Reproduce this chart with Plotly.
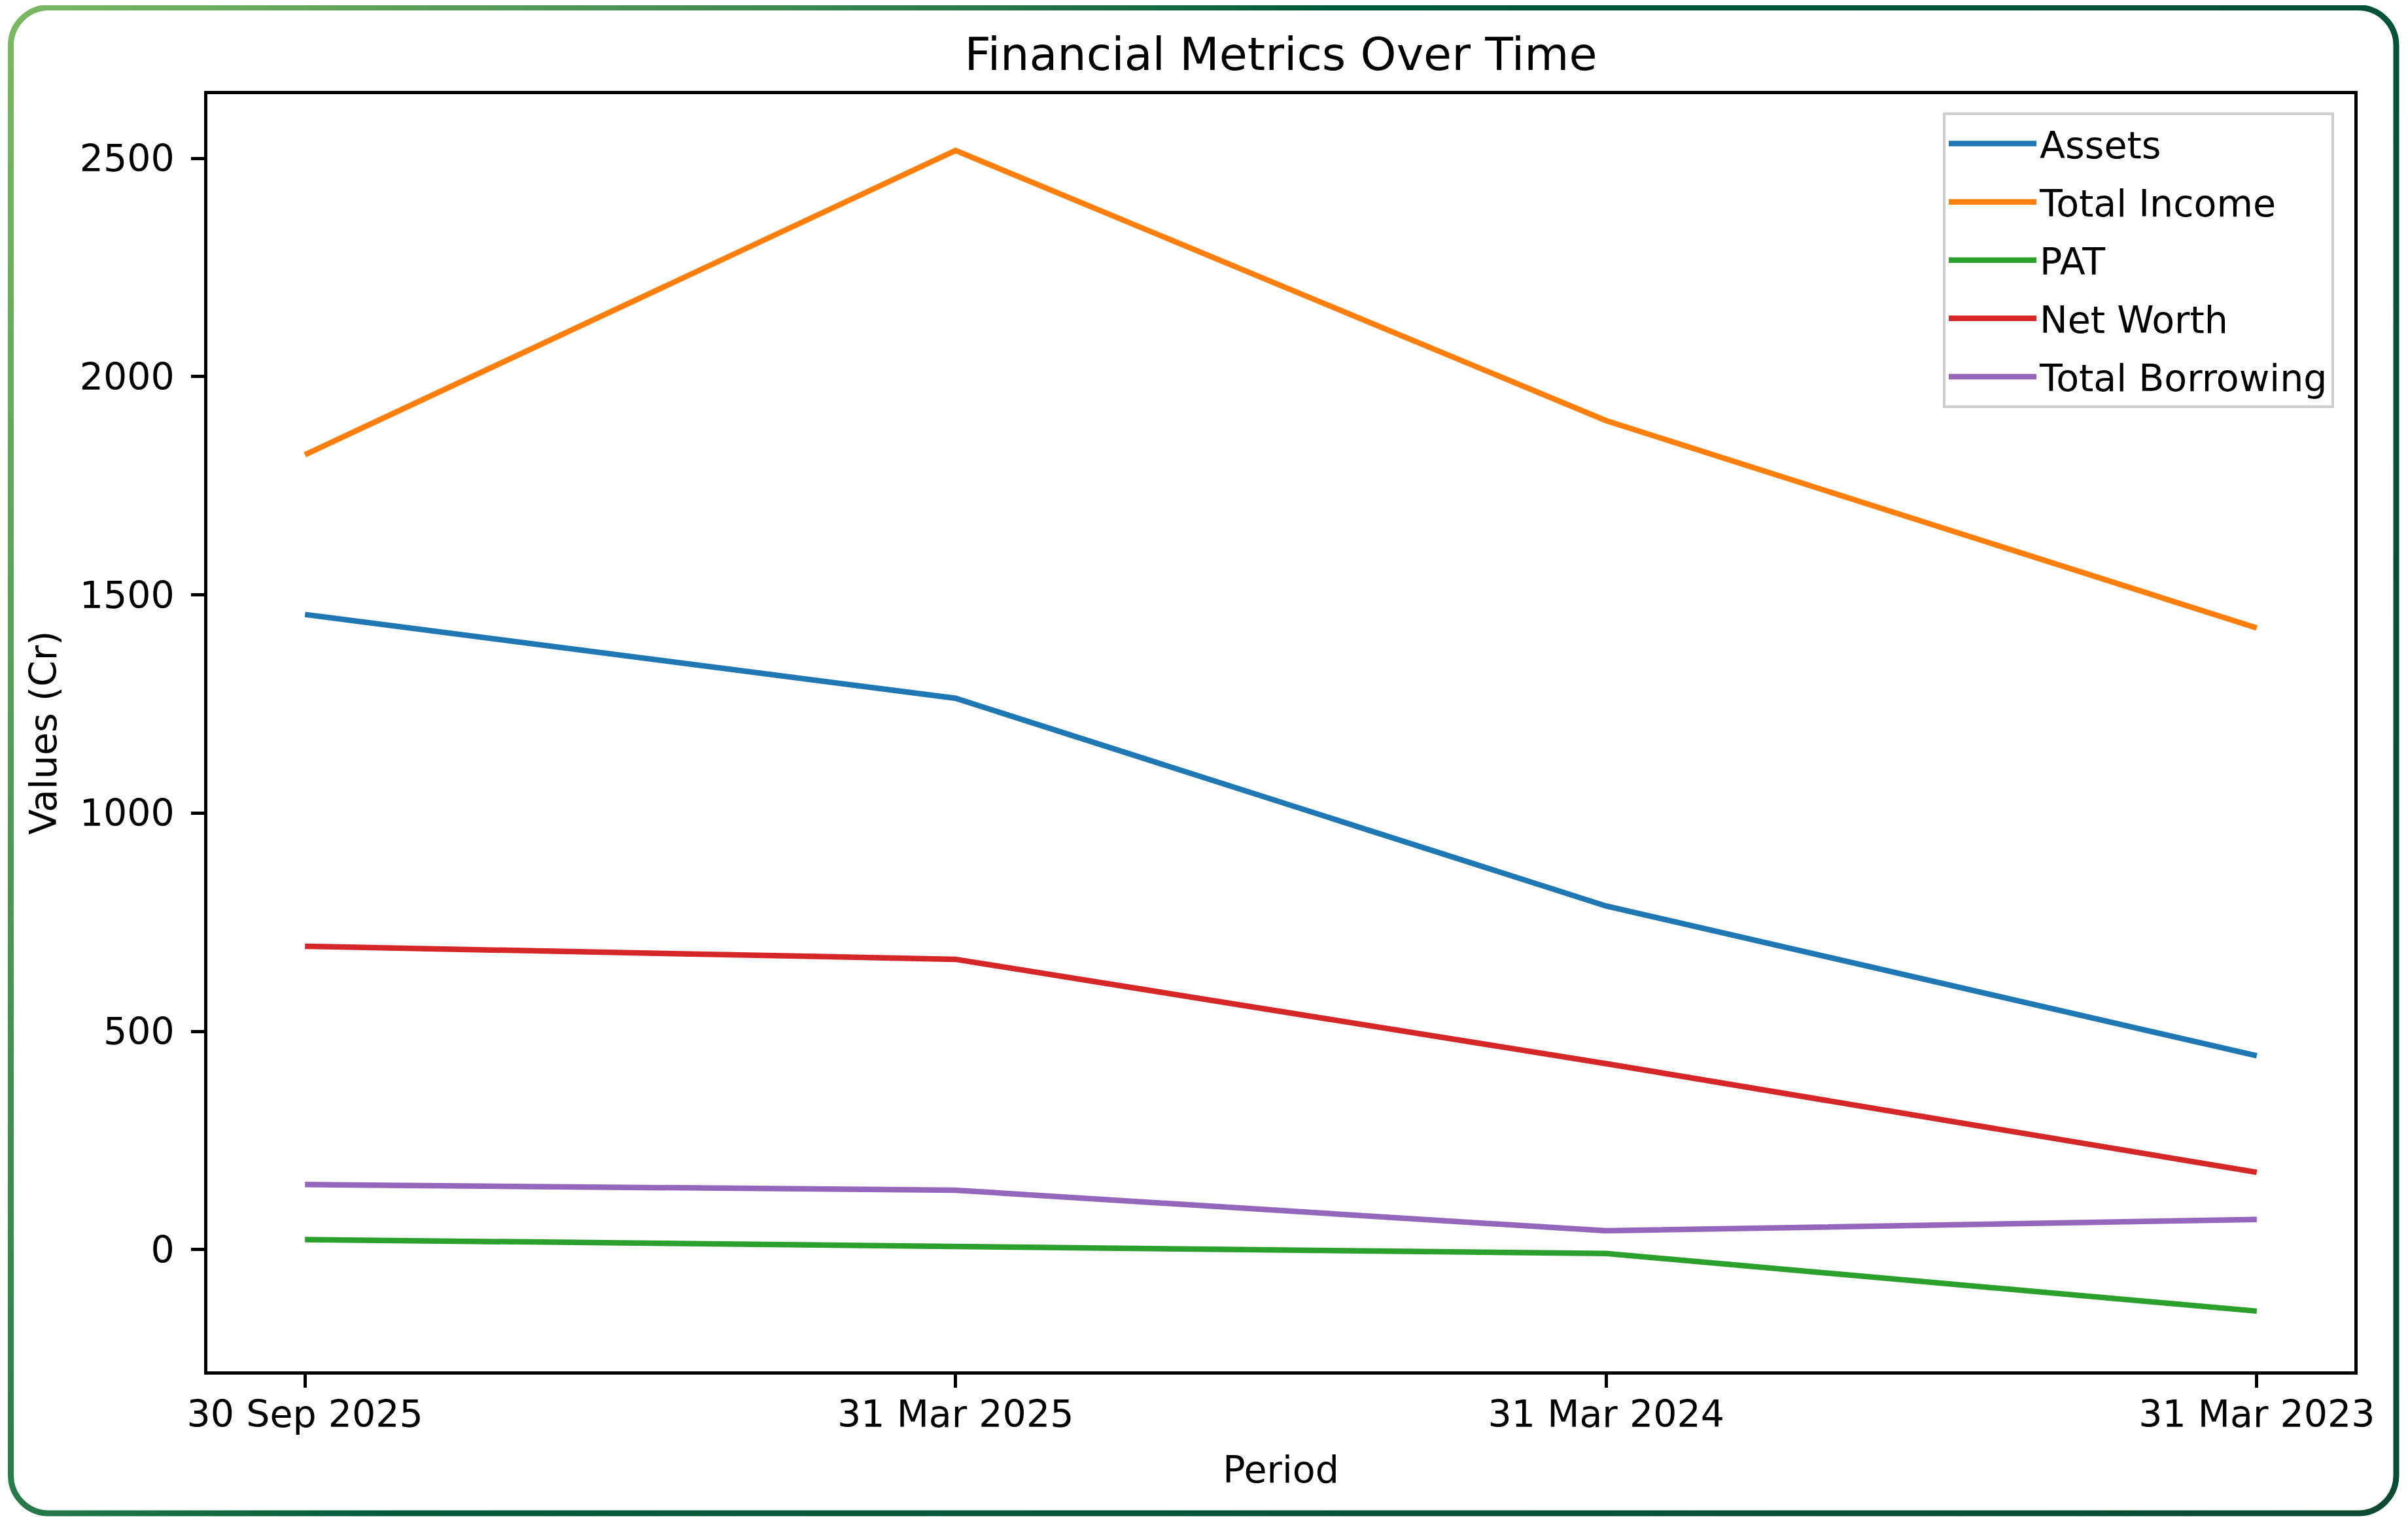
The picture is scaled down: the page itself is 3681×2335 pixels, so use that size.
import base64
import plotly.graph_objects as go

# ---- data ----
periods = ["30 Sep 2025", "31 Mar 2025", "31 Mar 2024", "31 Mar 2023"]
assets = [1455, 1263, 787, 444]
total_income = [1821, 2518, 1899, 1424]
pat = [23, 8, -9, -141]
net_worth = [695, 665, 426, 177]
total_borrowing = [149, 136, 43, 69]

series_names = ["Assets", "Total Income", "PAT", "Net Worth", "Total Borrowing"]
series_values = [assets, total_income, pat, net_worth, total_borrowing]
colors = ["#1f77b4", "#ff7f0e", "#2ca02c", "#d62728", "#9467bd"]
y_ticks = [0, 500, 1000, 1500, 2000, 2500]

# page is drawn with the default 8px body margin, so the figure is offset by 8px
OFF = 8
PAGE_W, PAGE_H = 3681, 2335
W, H = PAGE_W - OFF, PAGE_H - OFF
L, R, T, B = 317 - OFF, 82, 144 - OFF, 238
FONT = "DejaVu Sans"
TICK_SIZE = 57
TITLE_SIZE = 70
LINE_W = 8.5
SPINE_W = 4.5

fig = go.Figure()
x_idx = list(range(len(periods)))
for i, (name, vals) in enumerate(zip(series_names, series_values)):
    fig.add_trace(go.Scatter(
        x=x_idx, y=vals, mode="lines", name=name,
        line=dict(color=colors[i], width=LINE_W),
        legendgroup=name,
    ))

# gradient rounded border as an SVG image (figure coordinates)
svg = f'''<svg xmlns="http://www.w3.org/2000/svg" width="{W}" height="{H}" viewBox="0 0 {W} {H}">
<defs><linearGradient id="g" gradientUnits="userSpaceOnUse" x1="{-OFF}" y1="{-OFF}" x2="{PAGE_W - OFF}" y2="{PAGE_H - OFF}">
<stop offset="0" stop-color="#7cb962"/>
<stop offset="0.23" stop-color="#3d8a52"/>
<stop offset="0.40" stop-color="#005a3a"/>
<stop offset="1" stop-color="#0b4b32"/>
</linearGradient></defs>
<rect x="{16.5 - OFF}" y="{11.5 - OFF}" width="3646.5" height="2302.5" rx="58" ry="58" fill="none" stroke="url(#g)" stroke-width="9"/>
</svg>'''
src = "data:image/svg+xml;base64," + base64.b64encode(svg.encode()).decode()

pw = W - L - R
ph = H - T - B
fig.add_layout_image(dict(
    source=src, xref="paper", yref="paper",
    x=-L / pw, y=1 + T / ph, sizex=W / pw, sizey=H / ph,
    xanchor="left", yanchor="top", sizing="stretch", layer="above",
))

axis_common = dict(
    showgrid=False, zeroline=False,
    showline=True, linecolor="black", linewidth=SPINE_W, mirror=True,
    ticks="outside", ticklen=20, tickwidth=SPINE_W, tickcolor="black",
    tickfont=dict(family=FONT, size=TICK_SIZE, color="black"),
)

fig.update_layout(
    width=W, height=H,
    margin=dict(l=L, r=R, t=T, b=B, autoexpand=False),
    paper_bgcolor="white", plot_bgcolor="white",
    font=dict(family=FONT, color="black"),
    title=dict(text="Financial Metrics Over Time", x=(L + pw / 2) / W, xanchor="center",
               y=1 - (82 - OFF) / H, yanchor="middle",
               font=dict(family=FONT, size=TITLE_SIZE, color="black")),
    xaxis=dict(
        **axis_common,
        ticklabelstandoff=-8,
        tickmode="array", tickvals=x_idx, ticktext=periods,
        range=[-0.15, len(periods) - 1 + 0.15],
        title=dict(text="Period", font=dict(family=FONT, size=TICK_SIZE, color="black"), standoff=34),
    ),
    yaxis=dict(
        **axis_common,
        ticklabelstandoff=14,
        tickmode="array", tickvals=y_ticks, ticktext=[str(v) for v in y_ticks],
        range=[-279, 2647],
        title=dict(text="Values (Cr)", font=dict(family=FONT, size=TICK_SIZE, color="black"), standoff=18),
    ),
    legend=dict(
        x=(3568 - OFF - L) / pw, xanchor="right",
        y=1 - (172 - OFF - T) / ph, yanchor="top",
        bgcolor="rgba(255,255,255,0.8)", bordercolor="#cccccc", borderwidth=4,
        font=dict(family=FONT, size=TICK_SIZE, color="black"),
        tracegroupgap=12, itemwidth=134,
    ),
    showlegend=True,
)

fig.write_html("out.html")
